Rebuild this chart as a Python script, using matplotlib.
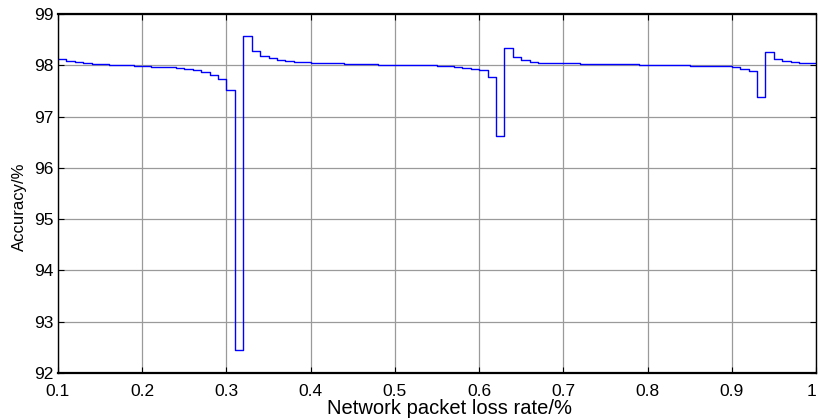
import numpy as np
import matplotlib
matplotlib.use('Agg')
import matplotlib.pyplot as plt

# packet loss rate grid (0.10 .. 1.00, step 0.01)
loss_rate = np.arange(10, 101) / 100.0

# accuracy, one value per step
accuracy = [
    98.12, 98.09, 98.06, 98.045, 98.03, 98.025, 98.01, 98.01, 98.01, 97.99,   # 0.10-0.19
    97.99, 97.975, 97.96, 97.96, 97.94, 97.92, 97.90, 97.87, 97.82, 97.74,   # 0.20-0.29
    97.52, 92.45, 98.58, 98.27, 98.18, 98.14, 98.10, 98.08, 98.065, 98.065,  # 0.30-0.39
    98.05, 98.05, 98.04, 98.04, 98.03, 98.03, 98.03, 98.03, 98.015, 98.015,  # 0.40-0.49
    98.01, 98.01, 98.005, 98.0, 98.0, 97.98, 97.98, 97.97, 97.95, 97.93,     # 0.50-0.59
    97.90, 97.77, 96.62, 98.33, 98.17, 98.10, 98.07, 98.05, 98.04, 98.04,    # 0.60-0.69
    98.035, 98.035, 98.02, 98.02, 98.02, 98.02, 98.02, 98.02, 98.02, 98.01,  # 0.70-0.79
    98.01, 98.01, 98.01, 98.01, 98.01, 97.995, 97.99, 97.99, 97.98, 97.98,   # 0.80-0.89
    97.96, 97.93, 97.88, 97.39, 98.26, 98.12, 98.08, 98.06, 98.045, 98.045,  # 0.90-0.99
    98.045,                                                                   # 1.00
]

x_ticks = [0.1, 0.2, 0.3, 0.4, 0.5, 0.6, 0.7, 0.8, 0.9, 1.0]
x_labels = ['0.1', '0.2', '0.3', '0.4', '0.5', '0.6', '0.7', '0.8', '0.9', '1']
y_ticks = [92, 93, 94, 95, 96, 97, 98, 99]

plt.rcParams['font.family'] = ['Liberation Sans', 'DejaVu Sans']

fig = plt.figure(figsize=(8.19, 4.18), dpi=100)
ax = fig.add_axes([58 / 819, 45 / 418, 758 / 819, 359 / 418])

ax.step(loss_rate, accuracy, where='post', color='#0000ff', linewidth=1.0)

ax.set_xlim(0.1, 1.0)
ax.set_ylim(92, 99)
ax.set_xticks(x_ticks)
ax.set_xticklabels(x_labels)
ax.set_yticks(y_ticks)

ax.grid(True, color='#9a9a9a', linewidth=0.9, linestyle='-')
ax.set_axisbelow(True)
ax.tick_params(direction='in', length=4, width=0.8, labelsize=12.5,
               top=True, right=True, pad=3, colors='black')
ax.tick_params(axis='x', pad=8)
# last label would hang over the figure edge
ax.get_xticklabels()[-1].set_horizontalalignment('right')

for side in ['top', 'bottom']:
    ax.spines[side].set_linewidth(1.6)
for side in ['left', 'right']:
    ax.spines[side].set_linewidth(1.0)

ax.set_xlabel('Network packet loss rate/%', fontsize=14.5)
ax.set_ylabel('Accuracy/%', fontsize=12)
# labels sit a bit off-centre in the original
ax.xaxis.set_label_coords(0.517, -0.072)
ax.yaxis.set_label_coords(-0.041, 0.462)

fig.savefig('out.png', dpi=100)
